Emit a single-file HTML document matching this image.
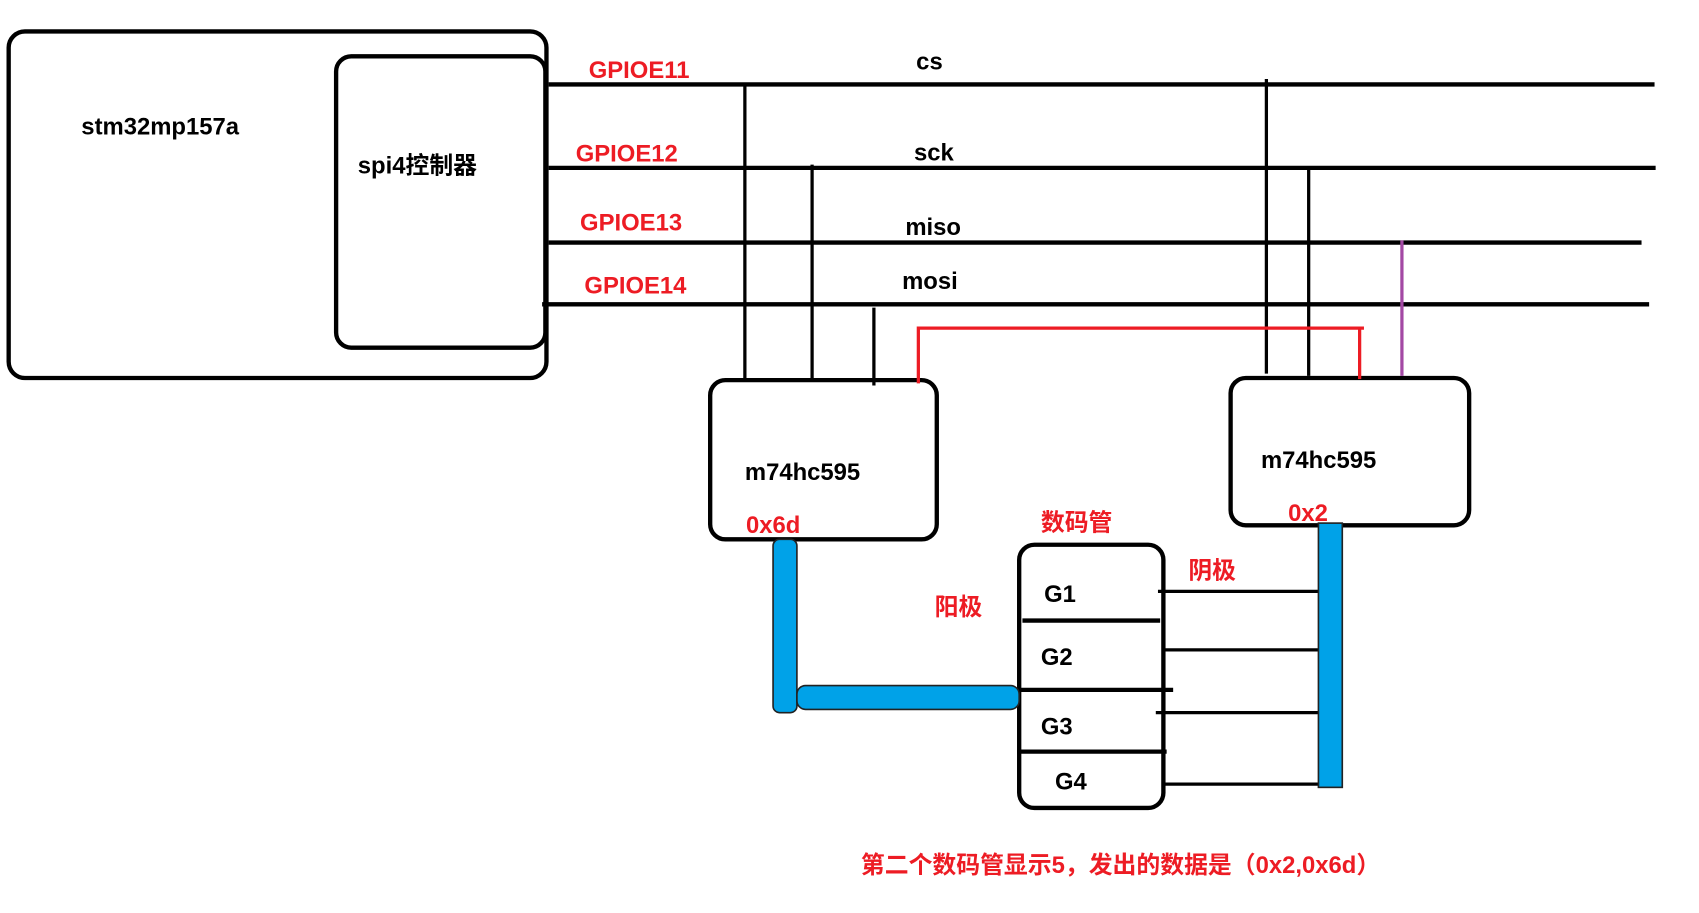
<!DOCTYPE html>
<html><head><meta charset="utf-8"><style>
html,body{margin:0;padding:0;background:#fff;}
svg{display:block}
text{font-family:"Liberation Sans","Noto Sans CJK SC",sans-serif;font-weight:bold;font-size:22px;}
.r{fill:#ed1c24}
</style></head><body>
<svg width="1699" height="913" viewBox="0 0 1567 843" preserveAspectRatio="none" xmlns="http://www.w3.org/2000/svg">
<g fill="none" stroke="#000" stroke-width="4">
<rect x="8" y="29" width="496" height="320" rx="15"/>
<rect x="310" y="52" width="193" height="269" rx="14"/>
<line x1="506" y1="78" x2="1526" y2="78"/>
<line x1="506" y1="155" x2="1527" y2="155"/>
<line x1="506" y1="224" x2="1514" y2="224"/>
<line x1="500" y1="281" x2="1521" y2="281"/>
<rect x="655" y="351" width="209" height="147" rx="14"/>
<rect x="1135" y="349" width="220" height="136" rx="14"/>
<rect x="940" y="503" width="133" height="243" rx="14"/>
<line x1="943" y1="573" x2="1070" y2="573"/>
<line x1="940" y1="637" x2="1082" y2="637"/>
<line x1="938" y1="694" x2="1076" y2="694"/>
</g>
<g stroke="#000" stroke-width="3">
<line x1="687" y1="78" x2="687" y2="350"/>
<line x1="749" y1="152" x2="749" y2="352"/>
<line x1="806" y1="284" x2="806" y2="356"/>
<line x1="1168" y1="73" x2="1168" y2="345"/>
<line x1="1207" y1="155" x2="1207" y2="347"/>
<line x1="1068" y1="546" x2="1216" y2="546"/>
<line x1="1073" y1="600" x2="1216" y2="600"/>
<line x1="1066" y1="658" x2="1216" y2="658"/>
<line x1="1073" y1="724" x2="1216" y2="724"/>
</g>
<polyline points="847,354 847,303 1258,303" fill="none" stroke="#ed1c24" stroke-width="3"/>
<line x1="1254" y1="303" x2="1254" y2="350" stroke="#ed1c24" stroke-width="3"/>
<line x1="1293" y1="222" x2="1293" y2="347" stroke="#a349a4" stroke-width="3"/>
<g fill="#00a2e8" stroke="#222" stroke-width="1.5">
<rect x="713" y="498" width="22" height="160" rx="6"/>
<rect x="735" y="633" width="205" height="22" rx="8"/>
<rect x="1216" y="483" width="22" height="244"/>
</g>
<text x="75" y="124">stm32mp157a</text>
<text x="330" y="160">spi4控制器</text>
<text class="r" x="543" y="72">GPIOE11</text>
<text class="r" x="531" y="149">GPIOE12</text>
<text class="r" x="535" y="213">GPIOE13</text>
<text class="r" x="539" y="271">GPIOE14</text>
<text x="845" y="64">cs</text>
<text x="843" y="148">sck</text>
<text x="835" y="217">miso</text>
<text x="832" y="267">mosi</text>
<text x="687" y="443">m74hc595</text>
<text x="1163" y="432">m74hc595</text>
<text class="r" x="688" y="492">0x6d</text>
<text class="r" x="1188" y="481">0x2</text>
<text class="r" x="960" y="490">数码管</text>
<text class="r" x="862" y="568">阳极</text>
<text class="r" x="1096" y="534">阴极</text>
<text x="963" y="556">G1</text>
<text x="960" y="614">G2</text>
<text x="960" y="678">G3</text>
<text x="973" y="729">G4</text>
<text class="r" x="794" y="806">第二个数码管显示5，发出的数据是（0x2,0x6d）</text>
</svg>
</body></html>
